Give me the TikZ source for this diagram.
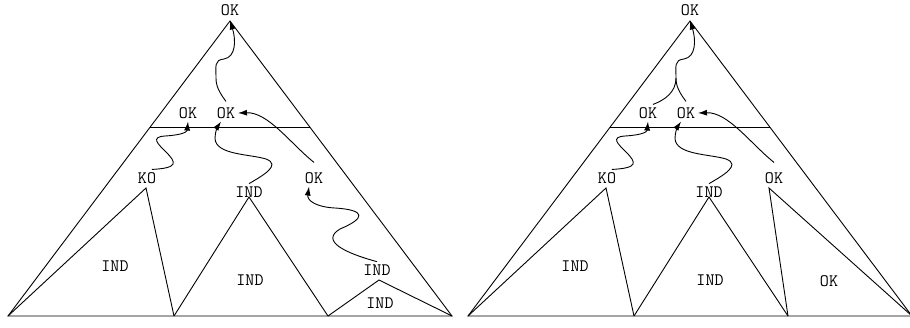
\documentclass[tikz,border=0pt]{standalone}
\usepackage{fontspec}
\usepackage{tikz}
\usetikzlibrary{arrows.meta}

\tikzset{
  lbl/.style={font=\ttfamily\fontsize{17.5}{20}\selectfont, inner sep=1pt, outer sep=2pt},
  wig/.style={-{Latex[length=9pt,width=6pt]}},
}

\begin{document}
\begin{tikzpicture}[x=1pt, y=-1pt, line width=0.9pt]
\useasboundingbox (0,0) rectangle (910,327);

%the two trees
	\foreach \s/\n in {0/L, 460/R}{
	\begin{scope}[xshift=\s]
		\draw (8,316) -- (230,21) -- (452,316) -- cycle;
		\draw (150,127) -- (310,127);
		\draw (8,316) -- (146,188) -- (174,316);
		\draw (174,316) -- (249,197) -- (328,316);

		\node[lbl] (top\n) at (230,10) {OK};
		\node[lbl] (okA\n) at (188,113) {OK};
		\node[lbl] (okB\n) at (226,113) {OK};
		\node[lbl] (ko\n) at (147,178) {KO};
		\node[lbl] (ind\n) at (249,192) {IND};
		\node[lbl] (okC\n) at (314,178) {OK};
		\node[lbl] (subA\n) at (115,266) {IND};
		\node[lbl] (subB\n) at (250,280) {IND};
		\coordinate (jn\n) at (216,78);

%waves
		\draw[wig] (ko\n.60) .. controls (178,168) and (177,163) .. (166,152)
			.. controls (158,144) and (150,137) .. (165,136)
			.. controls (182,135) and (187,132) .. (okA\n.south);
		\draw[wig] (ind\n.north) .. controls (262,176) and (282,165) .. (266,159)
			.. controls (250,154) and (215,155) .. (215,138)
			.. controls (215,132) and (218,126) .. (okB\n.240);
		\draw[wig] ([yshift=7pt]okC\n.north) .. controls (290,143) and (268,112) .. (okB\n.east);
		\draw[wig] ([yshift=3pt]okB\n.north) .. controls (219,92) and (216,86) .. (jn\n)
			.. controls (216,66) and (214,60) .. (224,59)
			.. controls (236,57) and (236,40) .. ([yshift=-2pt]top\n.south);
	\end{scope}
	}

%left tree, last subtree
	\draw (328,316) -- (379,280) -- (452,316);
	\node[lbl] (indC) at (377,270) {IND};
	\node[lbl] (indS) at (380,303) {IND};
	\draw[wig] (indC.north) .. controls (345,253) and (320,241) .. (340,229)
		.. controls (366,218) and (366,210) .. (335,208)
		.. controls (315,207) and (307,200) .. (okCL.240);

%right tree, last subtree
	\begin{scope}[xshift=460]
		\draw (328,316) -- (309,188) -- (452,316);
		\node[lbl] (okS) at (369,281) {OK};
		\draw (okAR.60) .. controls (205,100) and (216,92) .. (jnR);
	\end{scope}

\end{tikzpicture}
\end{document}
